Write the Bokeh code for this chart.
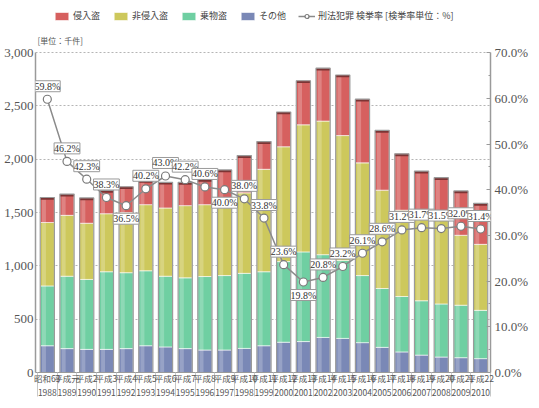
from bokeh.plotting import figure
from bokeh.models import (ColumnDataSource, Range1d, LinearAxis, FixedTicker,
                          NumeralTickFormatter, Legend, LegendItem, LabelSet, Label)
from bokeh.embed import file_html
from bokeh.resources import INLINE

years = ["1988", "1989", "1990", "1991", "1992", "1993", "1994", "1995", "1996", "1997",
         "1998", "1999", "2000", "2001", "2002", "2003", "2004", "2005", "2006", "2007",
         "2008", "2009", "2010"]
eras = ["昭和63", "平成元", "平成2", "平成3", "平成4", "平成5", "平成6", "平成7", "平成8", "平成9",
        "平成10", "平成11", "平成12", "平成13", "平成14", "平成15", "平成16", "平成17", "平成18",
        "平成19", "平成20", "平成21", "平成22"]
# thousands of cases
sonota = [251, 224, 217, 217, 224, 251, 240, 224, 211, 211, 226, 251, 284, 290, 329, 320,
          280, 236, 193, 163, 145, 139, 130]
norimono = [561, 679, 656, 728, 712, 703, 663, 664, 689, 698, 704, 694, 756, 841, 776, 730,
            629, 552, 520, 510, 498, 492, 453]
hishinyu = [595, 571, 527, 544, 564, 620, 640, 677, 674, 731, 755, 961, 1077, 1192, 1253, 1172,
            1057, 922, 809, 779, 789, 656, 619]
shinyu = [234, 199, 237, 219, 242, 227, 241, 218, 238, 260, 349, 260, 326, 413, 496, 568,
          597, 560, 529, 437, 395, 416, 384]
# clearance rate (%)
rate = [59.8, 46.2, 42.3, 38.3, 36.5, 40.2, 43.0, 42.2, 40.6, 40.0, 38.0, 33.8, 23.6, 19.8,
        20.8, 23.2, 26.1, 28.6, 31.2, 31.7, 31.5, 32.0, 31.4]
label_below = [False, False, False, False, True, False, False, False, False, True, False, False,
               False, True, False, False, False, False, False, False, False, False, False]

left_ticks = [0, 500, 1000, 1500, 2000, 2500, 3000]
right_ticks = [0, 10, 20, 30, 40, 50, 60, 70]

xs = list(range(len(years)))
total = [a + b + c + d for a, b, c, d in zip(sonota, norimono, hishinyu, shinyu)]

src = ColumnDataSource(dict(
    x=xs, sonota=sonota, norimono=norimono, hishinyu=hishinyu, shinyu=shinyu,
    total=total, cap_bottom=[t - 22 for t in total], xh=[x - 0.17 for x in xs],
))
lsrc = ColumnDataSource(dict(
    x=xs, rate=rate, txt=[f"{r:.1f}%" for r in rate],
    dy=[-13 if b else 13 for b in label_below],
))

FONT = "Noto Sans CJK JP"
NUM_FONT = "Liberation Sans Narrow"

# the frame reaches up to the legend row; axes are bounded at 3,000 / 70%
Y_TOP = 3470
p = figure(width=531, height=400, x_range=Range1d(-0.6, 22.5), y_range=Range1d(0, Y_TOP),
           output_backend="svg", toolbar_location=None, title=None,
           min_border_left=35, min_border_right=32, min_border_top=2, min_border_bottom=10)
p.outline_line_color = None
p.background_fill_color = "white"
p.xgrid.grid_line_color = None
p.ygrid.grid_line_color = "#b5b5b5"
p.ygrid.grid_line_dash = "2 2"
p.ygrid.ticker = FixedTicker(ticks=left_ticks)

p.extra_y_ranges = {"rate": Range1d(0, Y_TOP * 70 / 3000)}

colors = ["#7a88b6", "#6fcfa2", "#cdc85c", "#d6605f"]
rs = p.vbar_stack(["sonota", "norimono", "hishinyu", "shinyu"], x="x", width=0.72,
                  color=colors, source=src, line_color="white", line_width=0.6)
# light highlight on left side of each bar (cylinder look)
p.vbar(x="xh", width=0.2, top="total", bottom=0, source=src, fill_color="white",
       fill_alpha=0.22, line_color=None)
# dark top cap
p.vbar(x="x", width=0.72, top="total", bottom="cap_bottom", source=src,
       fill_color="#7c3434", line_color=None)
# gray outline
p.vbar(x="x", width=0.72, top="total", bottom=0, source=src, fill_color=None,
       line_color="#9a9a9a", line_width=1.2)

ln = p.line("x", "rate", source=lsrc, y_range_name="rate", line_color="#8a8a8a", line_width=1.5)
sc = p.scatter("x", "rate", source=lsrc, y_range_name="rate", size=8, fill_color="white",
               line_color="#7a7a7a", line_width=1.2)

labels = LabelSet(x="x", y="rate", text="txt", source=lsrc, y_range_name="rate",
                  y_offset="dy", text_align="center", text_baseline="middle",
                  text_font=NUM_FONT, text_font_size="10px", text_color="#333333",
                  background_fill_color="white", border_line_color="#9a9a9a",
                  border_line_width=1)
p.add_layout(labels)

# x axis
xa = p.xaxis[0]
xa.ticker = FixedTicker(ticks=xs, minor_ticks=[x - 0.5 for x in range(len(years) + 1)])
xa.major_label_overrides = {i: f"{eras[i]}\n{years[i]}" for i in xs}
xa.major_label_text_font = FONT
xa.major_label_text_font_size = "8.5px"
xa.major_label_text_color = "#555555"
xa.major_label_standoff = -25
xa.major_tick_line_color = None
xa.major_tick_out = 0
xa.major_tick_in = 0
xa.minor_tick_in = 0
xa.minor_tick_out = 24
xa.minor_tick_line_color = "#c8c8c8"
xa.axis_line_color = "#9a9a9a"

# left axis
ya = p.yaxis[0]
ya.ticker = FixedTicker(ticks=left_ticks)
ya.bounds = (0, 3000)
ya.formatter = NumeralTickFormatter(format="0,0")
ya.major_label_text_font = NUM_FONT
ya.major_label_text_font_size = "13px"
ya.major_label_text_color = "#555555"
ya.major_label_standoff = 2
ya.major_tick_out = 0
ya.major_tick_in = 0
ya.minor_tick_line_color = None
ya.axis_line_color = "#9a9a9a"
ya.axis_line_width = 1.5

# right axis
ra = LinearAxis(y_range_name="rate", ticker=FixedTicker(ticks=right_ticks,
                minor_ticks=[t + 5 for t in right_ticks[:-1]]), bounds=(0, 70))
ra.major_label_overrides = {t: f"{t:.1f}%" for t in right_ticks}
ra.major_label_text_font = NUM_FONT
ra.major_label_text_font_size = "13px"
ra.major_label_text_color = "#555555"
ra.major_label_standoff = 4
ra.major_tick_in = 4
ra.major_tick_out = 0
ra.minor_tick_in = 2
ra.minor_tick_out = 0
ra.major_tick_line_color = "#9a9a9a"
ra.minor_tick_line_color = "#9a9a9a"
ra.axis_line_color = "#9a9a9a"
ra.axis_line_width = 1.5
p.add_layout(ra, "right")

legend = Legend(items=[
    LegendItem(label="侵入盗", renderers=[rs[3]]),
    LegendItem(label="非侵入盗", renderers=[rs[2]]),
    LegendItem(label="乗物盗", renderers=[rs[1]]),
    LegendItem(label="その他", renderers=[rs[0]]),
    LegendItem(label="刑法犯罪 検挙率 [検挙率単位：%]", renderers=[ln, sc]),
], orientation="horizontal", location=(18, 350))
legend.label_text_font = FONT
legend.label_text_font_size = "9px"
legend.label_text_color = "#444444"
legend.glyph_width = 17
legend.glyph_height = 10
legend.label_standoff = 3
legend.spacing = 12
legend.padding = 3
legend.margin = 0
legend.border_line_color = None
legend.background_fill_alpha = 0
legend.label_height = 10
p.add_layout(legend)

p.add_layout(Label(x=2, y=332, x_units="screen", y_units="screen", text="[単位：千件]",
                   text_font=FONT, text_font_size="8px", text_color="#555555",
                   text_baseline="middle"))

open("out.html", "w").write(file_html(p, INLINE))
